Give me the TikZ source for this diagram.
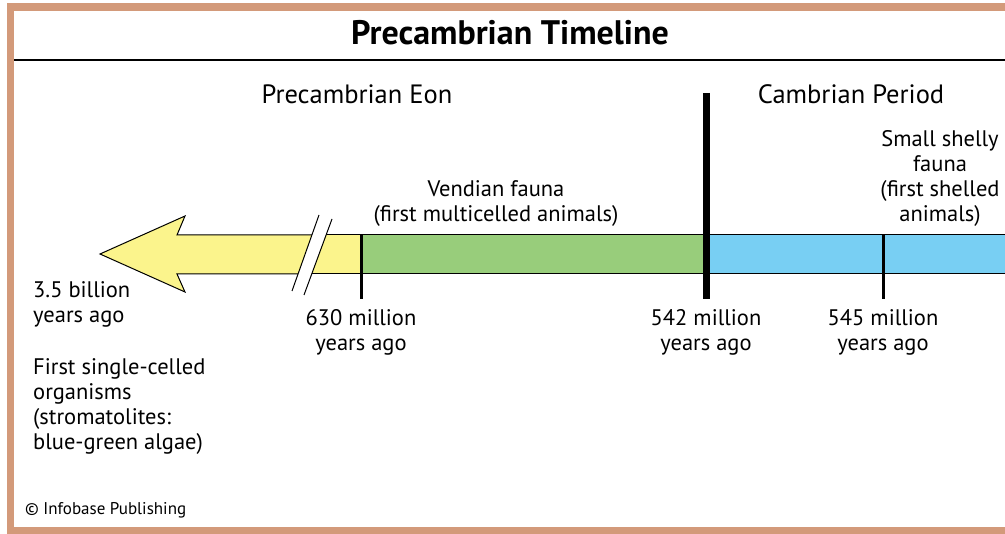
\documentclass[tikz,border=0pt]{standalone}
\usepackage{fontspec}
\setmainfont{PT Sans}
\definecolor{framec}{HTML}{D39A7A}
\definecolor{yel}{HTML}{FBF48C}
\definecolor{grn}{HTML}{98CD7B}
\definecolor{blu}{HTML}{78CFF3}
\begin{document}
\begin{tikzpicture}[x=1pt,y=-1pt,
  txt/.style={font=\fontsize{22.5}{25}\selectfont, align=center, inner sep=0pt, anchor=base},
  ltxt/.style={font=\fontsize{22.5}{25}\selectfont, align=left, inner sep=0pt, anchor=base west},
  head/.style={font=\fontsize{26.5}{30}\selectfont, inner sep=0pt, anchor=base},
  tick/.style={line width=3pt},
  bigtick/.style={line width=7pt},
  thin/.style={line width=1pt}]
\useasboundingbox (0,0) rectangle (1005,534);
\fill[white] (0,0) rectangle (1005,534);
% frame
\fill[framec] (7,3) rectangle (1005,11);
\fill[framec] (7,3) rectangle (14,534);
\fill[framec] (7,527) rectangle (1005,534);
\draw[line width=1.5pt] (14,60) -- (1005,60);
\node[font=\bfseries\fontsize{34}{38}\selectfont, inner sep=0pt, anchor=base] (title) at (510,45) {Precambrian Timeline};
% arrow left part
\filldraw[fill=yel, thin] (311.9,235) -- (177,235) -- (185,216) -- (100,254) -- (185,292) -- (177,274) -- (298,274);
% yellow right part
\fill[yel] (326,235) -- (361,235) -- (361,274) -- (311.7,274) -- cycle;
\draw[thin] (326,235) -- (361,235) (311.7,274) -- (361,274);
% green
\filldraw[fill=grn, thin] (361,235) rectangle (706,274);
% blue
\filldraw[fill=blu, thin] (706,235) rectangle (1006,274);
% slashes
\draw[thin] (292,291) -- (319,215);
\draw[thin] (304,295) -- (332,219);
% ticks
\coordinate (t630a) at (361,235); \coordinate (t630b) at (361,299);
\coordinate (t542a) at (706,93);  \coordinate (t542b) at (706,299);
\coordinate (t545a) at (883,235); \coordinate (t545b) at (883,299);
\draw[tick] (t630a) -- (t630b);
\draw[bigtick] (t542a) -- (t542b);
\draw[tick] (t545a) -- (t545b);
% labels
\node[head] (eon) at (357,104) {Precambrian Eon};
\node[head] (cam) at (851,104) {Cambrian Period};
\node[txt] (vend) at (496,222) {Vendian fauna\\(first multicelled animals)};
\node[txt] (shelly) at (940,222) {Small shelly\\fauna\\(first shelled\\animals)};
\node[ltxt] (b35) at (33,323) {3.5 billion\\years ago};
\node[txt] (m630) at (361,351) {630 million\\years ago};
\node[txt] (m542) at (706,351) {542 million\\years ago};
\node[txt] (m545) at (883,351) {545 million\\years ago};
\node[ltxt] (first) at (33,450) {First single-celled\\organisms\\(stromatolites:\\blue-green algae)};
\node[font=\fontsize{17}{20}\selectfont, inner sep=0pt, anchor=base west] (copy) at (25,515) {© Infobase Publishing};
\end{tikzpicture}
\end{document}
